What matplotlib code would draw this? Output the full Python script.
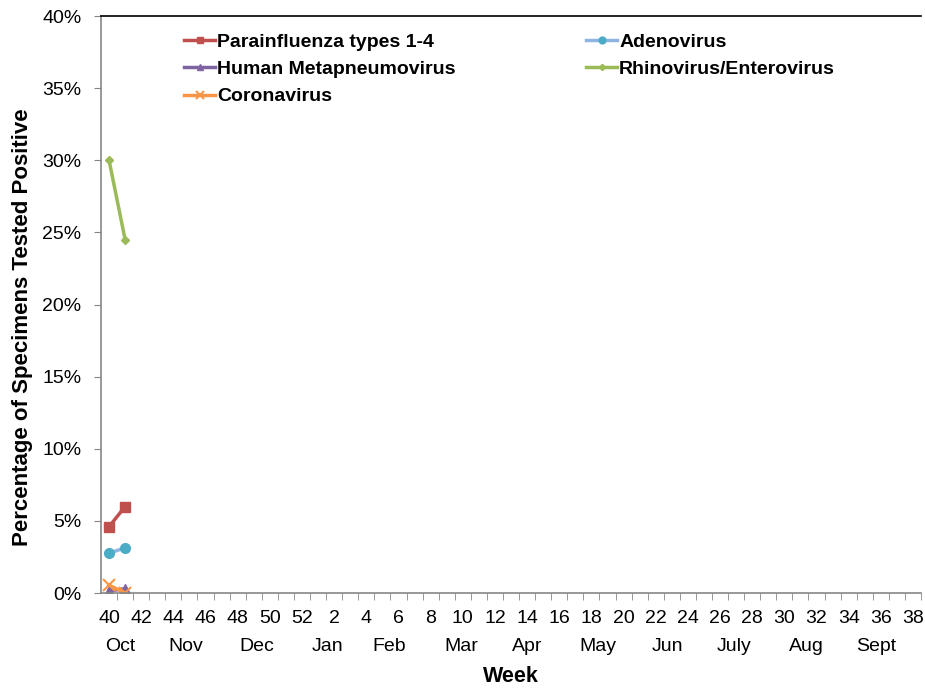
import matplotlib
matplotlib.use("Agg")
import matplotlib.pyplot as plt
from matplotlib.ticker import FuncFormatter, FixedLocator, NullFormatter
import matplotlib.transforms as mtransforms

plt.rcParams['font.family'] = ['Liberation Sans', 'DejaVu Sans']

# Week numbers of the season (week 40 through week 38)
weeks = list(range(40, 53)) + list(range(1, 39))

# Percent positive, only first two weeks reported
parainfluenza = [4.6, 6.0]
adenovirus = [2.75, 3.15]
hmpv = [0.15, 0.3]
rhino_entero = [30.0, 24.5]
coronavirus = [0.55, 0.0]

months = ["Oct", "Nov", "Dec", "Jan", "Feb", "Mar", "Apr", "May", "Jun", "July", "Aug", "Sept"]
month_pos = [0.7, 4.75, 9.2, 13.6, 17.4, 21.9, 26.0, 30.4, 34.7, 38.9, 43.4, 47.7]

fig = plt.figure(figsize=(9.25, 6.88), dpi=100)
ax = fig.add_axes([0.1092, 0.138, 0.8865, 0.8387])

x = [0, 1]
l1, = ax.plot(x, parainfluenza, color="#C0504D", lw=2.5, marker="s", ms=7,
              mfc="#C0504D", mec="#C0504D", label="Parainfluenza types 1-4")
l2, = ax.plot(x, adenovirus, color="#8EB4E3", lw=2.5, marker="o", ms=7,
              mfc="#4BACC6", mec="#4BACC6", label="Adenovirus")
l3, = ax.plot(x, hmpv, color="#8064A2", lw=2.5, marker="^", ms=7,
              mfc="#8064A2", mec="#8064A2", label="Human Metapneumovirus")
l4, = ax.plot(x, rhino_entero, color="#9BBB59", lw=2.5, marker="D", ms=4.5,
              mfc="#9BBB59", mec="#9BBB59", label="Rhinovirus/Enterovirus")
l5, = ax.plot(x, coronavirus, color="#F79646", lw=2.5, marker="x", ms=8,
              mew=1.5, label="Coronavirus")

ax.set_xlim(-0.5, len(weeks) - 0.5)
ax.set_ylim(0, 40)

# y axis
ax.set_yticks(range(0, 41, 5))
ax.yaxis.set_major_formatter(FuncFormatter(lambda v, p: "%d%%" % v))
ax.tick_params(axis="y", direction="out", length=5, color="#868686",
               labelsize=14, pad=9)

# x axis: labels every other week, tick marks between categories
ax.set_xticks(range(0, len(weeks), 2))
ax.set_xticklabels([str(w) for w in weeks[::2]])
ax.tick_params(axis="x", which="major", length=0, labelsize=14, pad=12)
ax.xaxis.set_minor_locator(FixedLocator([i + 0.5 for i in range(len(weeks))]))
ax.xaxis.set_minor_formatter(NullFormatter())
ax.tick_params(axis="x", which="minor", direction="out", length=5, color="#868686")

trans = mtransforms.blended_transform_factory(ax.transData, ax.transAxes)
for m, p in zip(months, month_pos):
    ax.text(p, -0.093, m, transform=trans, ha="center", va="center", fontsize=14)

ax.set_xlabel("Week", fontsize=15.5, fontweight="bold")
ax.xaxis.set_label_coords(0.5, -0.144)
ax.xaxis.label.set_verticalalignment("center")
ax.set_ylabel("Percentage of Specimens Tested Positive", fontsize=16,
              fontweight="bold")
ax.yaxis.set_label_coords(-0.096, 0.46)
ax.yaxis.label.set_verticalalignment("center")

for s in ["left", "bottom"]:
    ax.spines[s].set_color("#868686")
    ax.spines[s].set_linewidth(1.2)
ax.spines["top"].set_color("black")
ax.spines["top"].set_linewidth(1.2)
ax.spines["right"].set_visible(False)

leg = ax.legend(handles=[l1, l3, l5, l2, l4], ncol=2, loc="upper left",
                bbox_to_anchor=(0.092, 0.984), frameon=False,
                prop={"weight": "bold", "size": 14}, handlelength=1.6,
                handletextpad=0.1, columnspacing=6.7, labelspacing=0.5,
                borderaxespad=0, markerscale=0.7)

fig.savefig("out.png", dpi=100)
